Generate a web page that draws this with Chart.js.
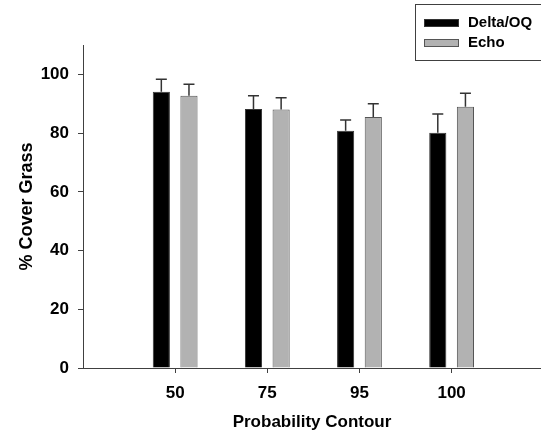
<!DOCTYPE html>
<html>
<head>
<meta charset="utf-8">
<script src="https://cdn.jsdelivr.net/npm/chart.js@4.4.0/dist/chart.umd.min.js"></script>
<style>
  html, body { margin: 0; padding: 0; background: #fff; }
  #wrap { width: 541px; height: 439px; }
</style>
</head>
<body>
<div id="wrap"><canvas id="chart"></canvas></div>
<script>
const contours = ["50", "75", "95", "100"];
const contourPos = [1, 2, 3, 4];
const deltaValues = [94.1, 88.2, 80.8, 80.1];
const deltaErrors = [4.2, 4.5, 3.7, 6.4];
const echoValues = [92.7, 88.0, 85.5, 89.0];
const echoErrors = [3.9, 4.0, 4.5, 4.6];
const yTicks = [0, 20, 40, 60, 80, 100];

const FONT = "'Liberation Sans', Arial, sans-serif";
const AXIS = "#404040";

// upper error bars only, like the original figure
const errorBars = {
  id: "errorBars",
  afterDatasetsDraw(chart) {
    const ctx = chart.ctx;
    const y = chart.scales.y;
    ctx.save();
    ctx.strokeStyle = "#333";
    ctx.lineWidth = 1.5;
    chart.data.datasets.forEach((ds, i) => {
      const meta = chart.getDatasetMeta(i);
      meta.data.forEach((bar, j) => {
        const top = y.getPixelForValue(ds.data[j].y + ds.errors[j]);
        ctx.beginPath();
        ctx.moveTo(bar.x, bar.y);
        ctx.lineTo(bar.x, top);
        ctx.moveTo(bar.x - 5.5, top);
        ctx.lineTo(bar.x + 5.5, top);
        ctx.stroke();
      });
    });
    ctx.restore();
  }
};

// boxed legend in the top right corner
const boxLegend = {
  id: "boxLegend",
  afterDraw(chart) {
    const ctx = chart.ctx;
    ctx.save();
    ctx.strokeStyle = AXIS;
    ctx.lineWidth = 1;
    ctx.strokeRect(415.5, 4.5, 130, 56);
    ctx.font = "bold 15px " + FONT;
    ctx.textBaseline = "middle";
    chart.data.datasets.forEach((ds, i) => {
      const cy = 23 + i * 20;
      ctx.fillStyle = ds.backgroundColor;
      ctx.fillRect(424, cy - 4, 35, 8);
      ctx.strokeStyle = ds.borderColor;
      ctx.strokeRect(424.5, cy - 3.5, 34, 7);
      ctx.fillStyle = "#000";
      ctx.fillText(ds.label, 468, cy);
    });
    ctx.restore();
  }
};

new Chart(document.getElementById("chart"), {
  type: "bar",
  data: {
    datasets: [
      {
        label: "Delta/OQ",
        data: deltaValues.map((v, i) => ({ x: contourPos[i], y: v })),
        errors: deltaErrors,
        backgroundColor: "#000000",
        borderColor: "#333333",
        borderWidth: 1,
      },
      {
        label: "Echo",
        data: echoValues.map((v, i) => ({ x: contourPos[i], y: v })),
        errors: echoErrors,
        backgroundColor: "#b2b2b2",
        borderColor: "#555555",
        borderWidth: 1,
      },
    ],
  },
  options: {
    responsive: true,
    maintainAspectRatio: false,
    animation: false,
    categoryPercentage: 0.6,
    barPercentage: 0.62,
    layout: { padding: { top: 45, right: 0, left: 0, bottom: 0 } },
    plugins: {
      legend: { display: false },
      tooltip: { enabled: false },
    },
    scales: {
      x: {
        type: "linear",
        min: 0,
        max: 4.97,
        offset: false,
        afterBuildTicks: (scale) => {
          scale.ticks = contourPos.map((v) => ({ value: v }));
        },
        afterFit: (scale) => { scale.height = 71; },
        ticks: {
          callback: (v) => contours[contourPos.indexOf(v)] ?? "",
          font: { family: FONT, size: 17, weight: "bold" },
          color: "#000",
          padding: 10,
          maxRotation: 0,
          autoSkip: false,
        },
        grid: { offset: false, drawOnChartArea: false, tickLength: 5, color: AXIS },
        border: { color: AXIS, width: 1 },
        title: {
          display: true,
          text: "Probability Contour",
          font: { family: FONT, size: 17, weight: "bold" },
          color: "#000",
          padding: { top: 0, bottom: 6 },
        },
      },
      y: {
        min: 0,
        max: 110,
        afterBuildTicks: (scale) => {
          scale.ticks = yTicks.map((v) => ({ value: v }));
        },
        afterFit: (scale) => { scale.width = 83; },
        ticks: {
          font: { family: FONT, size: 17, weight: "bold" },
          color: "#000",
          padding: 9,
        },
        grid: { drawOnChartArea: false, tickLength: 5, color: AXIS },
        border: { color: AXIS, width: 1 },
        title: {
          display: true,
          text: "% Cover Grass",
          font: { family: FONT, size: 18, weight: "bold" },
          color: "#000",
          padding: { top: 16, bottom: 0 },
        },
      },
    },
  },
  plugins: [errorBars, boxLegend],
});
</script>
</body>
</html>
